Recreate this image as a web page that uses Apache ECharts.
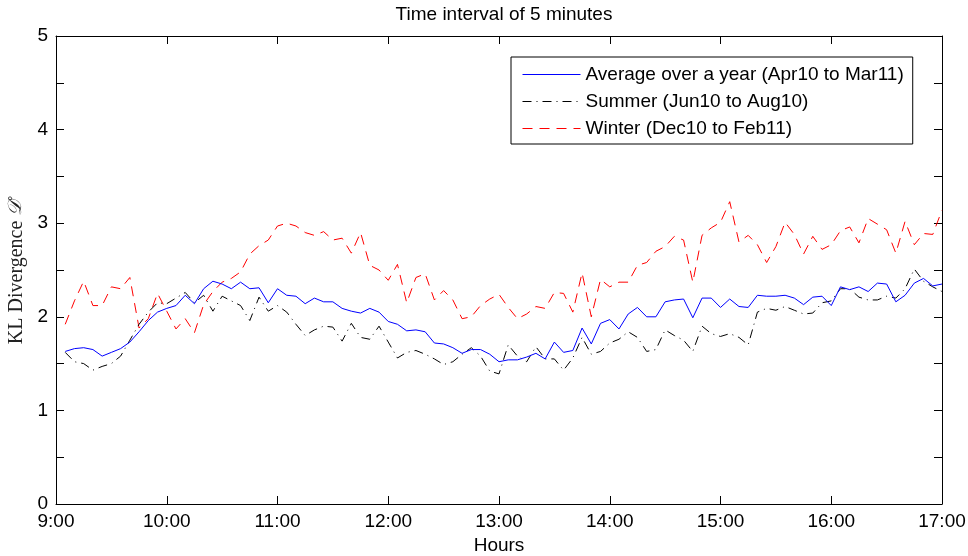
<!DOCTYPE html>
<html>
<head>
<meta charset="utf-8">
<script src="https://cdn.jsdelivr.net/npm/echarts@6/dist/echarts.min.js"></script>
<style>
  html, body { margin: 0; padding: 0; background: #fff; }
  #chart { width: 968px; height: 556px; }
</style>
</head>
<body>
<div id="chart"></div>
<script>
// Hour tick labels along the time axis (minutes counted from 9:00)
const hourLabels = ['9:00', '10:00', '11:00', '12:00', '13:00', '14:00', '15:00', '16:00', '17:00'];
const stepMinutes = 5; // one value per 5-minute interval, first one at 9:05

// KL divergence, yearly average (Apr10 to Mar11)
const average = [
  1.63, 1.66, 1.67, 1.65, 1.58, 1.62, 1.66, 1.73, 1.84, 1.96, 2.05, 2.09, 2.12, 2.23, 2.14, 2.30, 2.38,
  2.35, 2.30, 2.37, 2.30, 2.31, 2.15, 2.30, 2.23, 2.22, 2.14, 2.20, 2.16, 2.16, 2.09, 2.06, 2.04,
  2.09, 2.05, 1.95, 1.92, 1.85, 1.86, 1.84, 1.72, 1.71, 1.67, 1.61, 1.65, 1.65, 1.60, 1.52, 1.54,
  1.54, 1.57, 1.61, 1.55, 1.73, 1.62, 1.64, 1.88, 1.71, 1.93, 1.97, 1.87, 2.03, 2.10, 2.00, 2.00,
  2.16, 2.18, 2.19, 1.99, 2.20, 2.20, 2.10, 2.19, 2.11, 2.10, 2.23, 2.22, 2.22, 2.23, 2.20, 2.13,
  2.21, 2.22, 2.12, 2.32, 2.29, 2.32, 2.27, 2.36, 2.35, 2.16, 2.23, 2.36, 2.41, 2.33, 2.35
];

// Summer (Jun10 to Aug10)
const summer = [
  1.62, 1.52, 1.50, 1.43, 1.47, 1.50, 1.58, 1.75, 1.92, 2.05, 2.15, 2.14, 2.20, 2.26, 2.15, 2.23, 2.06,
  2.22, 2.17, 2.12, 1.96, 2.21, 2.06, 2.12, 2.05, 1.92, 1.80, 1.86, 1.90, 1.89, 1.74, 1.93, 1.78,
  1.76, 1.90, 1.73, 1.56, 1.62, 1.64, 1.60, 1.55, 1.49, 1.52, 1.60, 1.67, 1.58, 1.42, 1.39, 1.70,
  1.58, 1.52, 1.68, 1.55, 1.55, 1.43, 1.56, 1.78, 1.60, 1.63, 1.72, 1.76, 1.84, 1.78, 1.63, 1.65,
  1.86, 1.80, 1.75, 1.63, 1.90, 1.82, 1.79, 1.82, 1.78, 1.70, 2.05, 2.09, 2.07, 2.11, 2.07, 2.03,
  2.04, 2.15, 2.17, 2.30, 2.30, 2.21, 2.18, 2.18, 2.22, 2.20, 2.30, 2.51, 2.38, 2.32, 2.27
];

// Winter (Dec10 to Feb11)
const winter = [
  1.92, 2.17, 2.38, 2.12, 2.12, 2.32, 2.30, 2.42, 1.88, 1.98, 2.25, 2.06, 1.87, 1.98, 1.83, 2.13, 2.27,
  2.37, 2.41, 2.48, 2.67, 2.76, 2.82, 2.97, 3.00, 2.97, 2.90, 2.87, 2.91, 2.82, 2.84, 2.68, 2.90,
  2.55, 2.50, 2.39, 2.56, 2.15, 2.42, 2.46, 2.18, 2.28, 2.18, 1.98, 2.00, 2.12, 2.19, 2.24, 2.10,
  1.98, 2.03, 2.11, 2.09, 2.26, 2.25, 2.05, 2.47, 2.00, 2.40, 2.32, 2.37, 2.37, 2.55, 2.58, 2.70,
  2.75, 2.86, 2.82, 2.37, 2.87, 2.95, 3.01, 3.23, 2.80, 2.87, 2.77, 2.58, 2.75, 3.01, 2.88, 2.67,
  2.86, 2.72, 2.77, 2.92, 2.96, 2.79, 3.05, 2.99, 2.93, 2.68, 3.02, 2.77, 2.89, 2.88, 3.14
];

const toPoints = arr => arr.map((v, i) => [(i + 1) * stepMinutes, v]);

const sansFont = '"Liberation Sans", Arial, Helvetica, sans-serif';
const serifFont = '"Liberation Serif", "DejaVu Serif", serif';
const axisColor = '#000';
const textSize = 19;

const xBase = {
  type: 'value', min: 0, max: 480, interval: 60,
  axisLine: { show: true, onZero: false, lineStyle: { color: axisColor, width: 1 } },
  axisTick: { show: true, inside: true, length: 8, lineStyle: { color: axisColor } },
  splitLine: { show: false }
};
const yBase = {
  type: 'value', min: 0, max: 5, interval: 0.5,
  axisLine: { show: true, onZero: false, lineStyle: { color: axisColor, width: 1 } },
  axisTick: { show: true, inside: true, length: 8, lineStyle: { color: axisColor } },
  splitLine: { show: false }
};

const chart = echarts.init(document.getElementById('chart'), null, { renderer: 'canvas' });

chart.setOption({
  backgroundColor: '#fff',
  animation: false,
  title: {
    text: 'Time interval of 5 minutes',
    left: 499, top: 0, textAlign: 'center',
    textStyle: { fontFamily: sansFont, fontSize: textSize, fontWeight: 'normal', color: '#000' }
  },
  grid: { left: 56, right: 26, top: 36, bottom: 52, containLabel: false, outerBoundsMode: 'none' },
  legend: {
    orient: 'vertical',
    left: 511, top: 57,
    padding: [8, 9, 6, 11],
    itemWidth: 58, itemHeight: 14, itemGap: 8,
    borderColor: '#000', borderWidth: 1, borderRadius: 0,
    backgroundColor: '#fff',
    lineStyle: { width: 1 },
    textStyle: { fontFamily: sansFont, fontSize: textSize, lineHeight: 19, color: '#000' },
    data: ['Average over a year (Apr10 to Mar11)', 'Summer (Jun10 to Aug10)', 'Winter (Dec10 to Feb11)']
  },
  xAxis: [
    Object.assign({}, xBase, {
      position: 'bottom',
      name: 'Hours', nameLocation: 'middle', nameGap: 32,
      nameTextStyle: { fontFamily: sansFont, fontSize: textSize, color: '#000' },
      axisLabel: {
        margin: 8, fontFamily: sansFont, fontSize: textSize, color: '#000',
        formatter: v => hourLabels[Math.round(v / 60)]
      }
    }),
    Object.assign({}, xBase, { position: 'top', axisLabel: { show: false } })
  ],
  yAxis: [
    Object.assign({}, yBase, {
      position: 'left',
      name: 'KL Divergence {d|𝒟}{s|°}', nameLocation: 'middle', nameGap: 23, nameRotate: 90,
      nameTextStyle: {
        fontFamily: serifFont, fontSize: 20, color: '#222',
        rich: {
          d: { fontFamily: '"DejaVu Serif", serif', fontSize: 19, fontStyle: 'italic', color: '#222' },
          s: { fontFamily: serifFont, fontSize: 12, color: '#222', verticalAlign: 'top', padding: [0, 0, 8, 0] }
        }
      },
      axisLabel: {
        margin: 8, fontFamily: sansFont, fontSize: textSize, color: '#000',
        formatter: v => (Math.abs(v - Math.round(v)) < 1e-9 ? String(Math.round(v)) : '')
      }
    }),
    Object.assign({}, yBase, { position: 'right', axisLabel: { show: false } })
  ],
  series: [
    {
      name: 'Average over a year (Apr10 to Mar11)', type: 'line',
      xAxisIndex: 0, yAxisIndex: 0,
      data: toPoints(average), symbol: 'none',
      lineStyle: { color: '#0000ff', width: 1, type: 'solid' },
      itemStyle: { color: '#0000ff', opacity: 0 }, z: 4
    },
    {
      name: 'Summer (Jun10 to Aug10)', type: 'line',
      xAxisIndex: 0, yAxisIndex: 0,
      data: toPoints(summer), symbol: 'none',
      lineStyle: { color: '#000000', width: 1, type: [9, 5, 1, 5] },
      itemStyle: { color: '#000000', opacity: 0 }, z: 3
    },
    {
      name: 'Winter (Dec10 to Feb11)', type: 'line',
      xAxisIndex: 0, yAxisIndex: 0,
      data: toPoints(winter), symbol: 'none',
      lineStyle: { color: '#ff0000', width: 1, type: [10, 7] },
      itemStyle: { color: '#ff0000', opacity: 0 }, z: 2
    }
  ]
});
</script>
</body>
</html>
